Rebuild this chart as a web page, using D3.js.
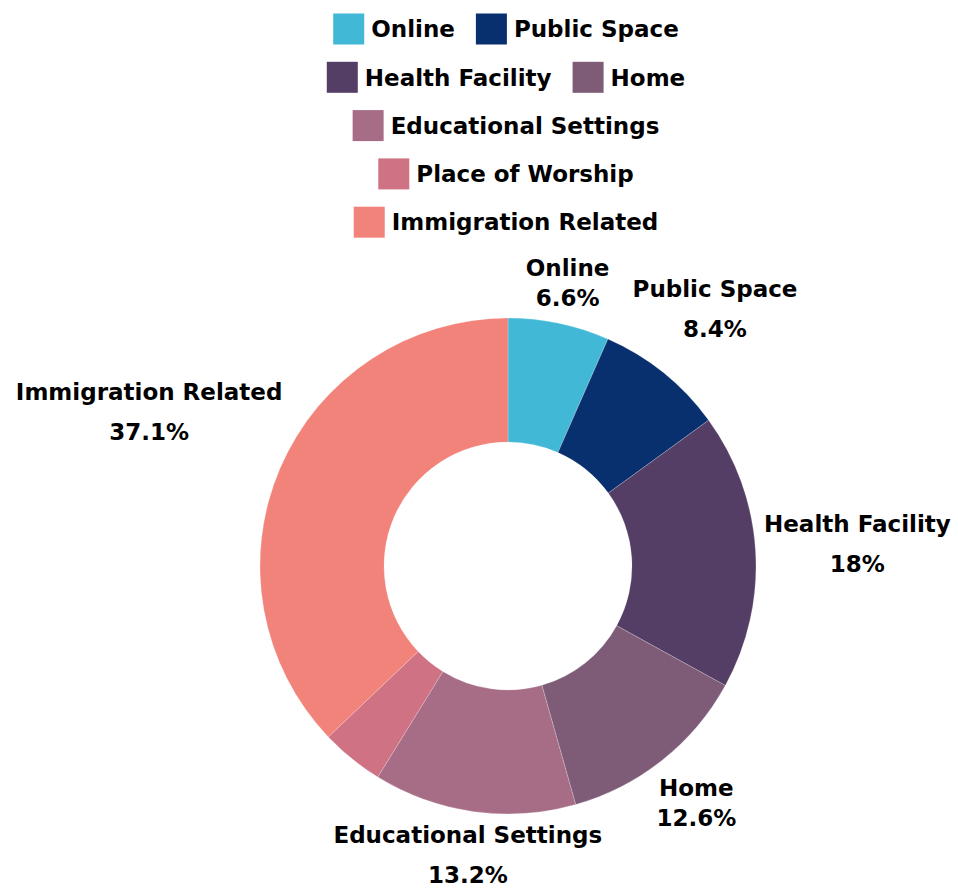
<!DOCTYPE html>
<html>
<head>
<meta charset="utf-8">
<script src="https://cdn.jsdelivr.net/npm/d3@7"></script>
<style>
  html, body { margin: 0; padding: 0; background: #fff; }
  text { font-family: "DejaVu Sans", sans-serif; font-weight: 700; fill: #000; }
</style>
</head>
<body>
<svg id="chart" width="958" height="888"></svg>
<script>
const categories = ["Online", "Public Space", "Health Facility", "Home", "Educational Settings", "Place of Worship", "Immigration Related"];
const values = [6.6, 8.4, 18, 12.6, 13.2, 4.1, 37.1];
const valueLabels = ["6.6%", "8.4%", "18%", "12.6%", "13.2%", "4.1%", "37.1%"];
const showLabel = [true, true, true, true, true, false, true];
const colors = ["#41b8d5", "#082f6e", "#553e66", "#7e5c77", "#a76d86", "#cf7284", "#f2837b"];

const svg = d3.select("#chart");
const cx = 508, cy = 566, R = 248, r0 = 124;
const fontSize = 23;

// Legend
const legend = svg.append("g").attr("class", "legend");
const box = 31, boxGap = 7, itemGap = 21, rowH = 48.3, maxRow = 420, legendCx = 506, legendTop = 29;
const items = categories.map((c, i) => {
  const g = legend.append("g");
  g.append("rect").attr("width", box).attr("height", box).attr("fill", colors[i]);
  const t = g.append("text").attr("x", box + boxGap).attr("y", box / 2).attr("dy", "0.36em")
    .style("font-size", fontSize + "px").text(c);
  const w = box + boxGap + t.node().getComputedTextLength();
  return { g, w };
});
const rows = [];
let cur = [], curW = 0;
items.forEach(it => {
  const add = cur.length ? itemGap + it.w : it.w;
  if (cur.length && curW + add > maxRow) { rows.push({ items: cur, w: curW }); cur = [it]; curW = it.w; }
  else { cur.push(it); curW += add; }
});
if (cur.length) rows.push({ items: cur, w: curW });
rows.forEach((row, ri) => {
  let x = legendCx - row.w / 2;
  const y = legendTop + ri * rowH - box / 2;
  row.items.forEach(it => { it.g.attr("transform", `translate(${x},${y})`); x += it.w + itemGap; });
});

// Pie
const pie = d3.pie().sort(null).value(d => d.v);
const data = pie(categories.map((c, i) => ({ c, v: values[i], i })));
const arc = d3.arc().innerRadius(r0).outerRadius(R);
const pg = svg.append("g").attr("transform", `translate(${cx},${cy})`);
pg.selectAll("path").data(data).join("path")
  .attr("d", arc)
  .attr("fill", d => colors[d.data.i])
  .attr("stroke", "rgba(255,255,255,0.35)")
  .attr("stroke-width", 0.6);

// Labels placed outside, just clear of the outer edge
const pad = 8;
const lg = svg.append("g").attr("transform", `translate(${cx},${cy})`);
data.forEach(d => {
  if (!showLabel[d.data.i]) return;
  const name = categories[d.data.i];
  const gap = name.includes(" ") ? 40 : 30;
  const g = lg.append("g");
  const t = g.append("text").attr("text-anchor", "middle").style("font-size", fontSize + "px");
  t.append("tspan").attr("x", 0).attr("y", 0).text(name);
  t.append("tspan").attr("x", 0).attr("y", gap).text(valueLabels[d.data.i]);
  const bb = t.node().getBBox();
  const ox = -(bb.x + bb.width / 2), oy = -(bb.y + bb.height / 2);
  t.attr("transform", `translate(${ox},${oy})`);
  const a = (d.startAngle + d.endAngle) / 2;
  const dx = Math.sin(a), dy = -Math.cos(a);
  const hw = bb.width / 2, hh = bb.height / 2;
  const nearest = dd => {
    const px = dx * dd, py = dy * dd;
    const nx = Math.max(px - hw, Math.min(0, px + hw));
    const ny = Math.max(py - hh, Math.min(0, py + hh));
    return Math.hypot(nx, ny);
  };
  let lo = 0, hi = 1000;
  for (let k = 0; k < 60; k++) { const m = (lo + hi) / 2; if (nearest(m) < R + pad) lo = m; else hi = m; }
  g.attr("transform", `translate(${dx * hi},${dy * hi})`);
});
</script>
</body>
</html>
